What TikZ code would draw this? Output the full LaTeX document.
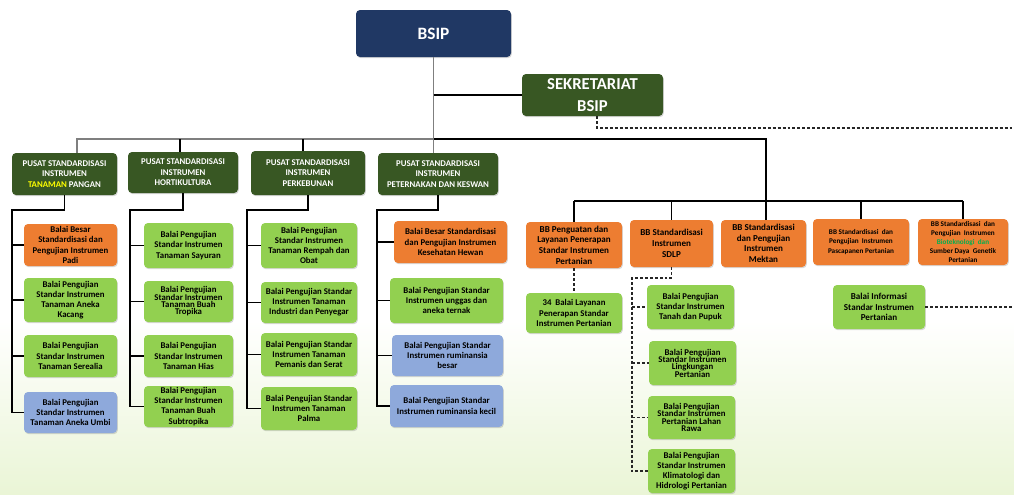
\documentclass[tikz,border=0pt]{standalone}
\usepackage{fontspec}
\setmainfont{Carlito}
\usetikzlibrary{shadows}
\definecolor{navy}{HTML}{203864}
\definecolor{dkgreen}{HTML}{385723}
\definecolor{orng}{HTML}{ED7D31}
\definecolor{lgreen}{HTML}{92D050}
\definecolor{lblue}{HTML}{8EA9DB}
\definecolor{txtyellow}{HTML}{FFFF00}
\definecolor{txtgreen}{HTML}{00B050}
\definecolor{bggreen}{RGB}{234,245,214}
\definecolor{linegray}{HTML}{7F7F7F}
\newcommand{\ubox}[7]{\node[#1, minimum width={(#5-#3)*0.75pt}, minimum height={(#6-#4)*0.75pt}] (#2) at ({(#3+#5)/2},{(#4+#6)/2}) {#7};}
\newcommand{\tightlines}{\lineskiplimit=-10pt\relax}
\begin{document}
\begin{tikzpicture}[x=0.75pt,y=-0.75pt,
  base/.style={rounded corners=3pt, inner sep=1pt, align=center,
    drop shadow={shadow xshift=0.6pt, shadow yshift=-0.9pt, opacity=0.3}},
  topbox/.style={base, fill=navy, text=white, font=\bfseries\fontsize{13}{16}\selectfont},
  sekbox/.style={base, fill=dkgreen, text=white, font=\bfseries\fontsize{12.5}{16}\selectfont},
  pusat/.style={base, fill=dkgreen, text=white, font=\bfseries\fontsize{6.6}{7.9}\selectfont},
  child/.style={base, text=black, font=\bfseries\fontsize{6.6}{7.6}\selectfont},
  tight/.style={font=\bfseries\fontsize{6.6}{5.5}\selectfont\tightlines},
  bbsmall/.style={font=\bfseries\fontsize{5.4}{6.8}\selectfont},
  bbmid/.style={font=\bfseries\fontsize{6.8}{8}\selectfont},
  og/.style={child, fill=orng},
  gr/.style={child, fill=lgreen},
  bl/.style={child, fill=lblue},
  bline/.style={draw=black, line width=0.9pt},
  gline/.style={draw=linegray, line width=0.9pt},
  dline/.style={draw=black!85, line width=0.8pt, dash pattern=on 2.2pt off 1.5pt}
]
\useasboundingbox (0,0) rectangle (1014,494);
\fill[white] (0,0) rectangle (1014,494);
\shade[top color=white, bottom color=bggreen] (0,320) rectangle (1014,494);

% top
\ubox{topbox}{bsip}{356}{10}{511}{57}{BSIP}
\ubox{sekbox}{sek}{522}{74}{663}{116}{SEKRETARIAT\\BSIP}

% pusat
\ubox{pusat}{p1}{12}{153}{117}{195}{PUSAT STANDARDISASI\\INSTRUMEN\\\textcolor{txtyellow}{TANAMAN} PANGAN}
\ubox{pusat}{p2}{128}{152}{238}{193}{PUSAT STANDARDISASI\\INSTRUMEN\\HORTIKULTURA}
\ubox{pusat}{p3}{251}{151}{365}{195}{PUSAT STANDARDISASI\\INSTRUMEN\\PERKEBUNAN}
\ubox{pusat}{p4}{378}{153}{498}{195}{PUSAT STANDARDISASI\\INSTRUMEN\\PETERNAKAN DAN KESWAN}

% tanaman pangan
\ubox{og}{c1}{24}{224}{117}{266}{Balai Besar\\Standardisasi dan\\Pengujian Instrumen\\Padi}
\ubox{gr}{c2}{24}{278}{117}{322}{Balai Pengujian\\Standar Instrumen\\Tanaman Aneka\\Kacang}
\ubox{gr}{c3}{24}{335}{117}{377}{Balai Pengujian\\Standar Instrumen\\Tanaman Serealia}
\ubox{bl}{c4}{24}{392}{117}{433}{Balai Pengujian\\Standar Instrumen\\Tanaman Aneka Umbi}

% hortikultura
\ubox{gr}{h1}{144}{223}{233}{268}{Balai Pengujian\\Standar Instrumen\\Tanaman Sayuran}
\ubox{gr,tight}{h2}{144}{281}{233}{322}{Balai Pengujian\\Standar Instrumen\\Tanaman Buah\\Tropika}
\ubox{gr}{h3}{144}{335}{233}{377}{Balai Pengujian\\Standar Instrumen\\Tanaman Hias}
\ubox{gr}{h4}{144}{386}{233}{427}{Balai Pengujian\\Standar Instrumen\\Tanaman Buah\\Subtropika}

% perkebunan
\ubox{gr}{k1}{261}{223}{357}{268}{Balai Pengujian\\Standar Instrumen\\Tanaman Rempah dan\\Obat}
\ubox{gr}{k2}{261}{282}{357}{323}{Balai Pengujian Standar\\Instrumen Tanaman\\Industri dan Penyegar}
\ubox{gr}{k3}{261}{333}{357}{376}{Balai Pengujian Standar\\Instrumen Tanaman\\Pemanis dan Serat}
\ubox{gr}{k4}{261}{387}{357}{430}{Balai Pengujian Standar\\Instrumen Tanaman\\Palma}

% peternakan
\ubox{og}{e1}{394}{221}{507}{263}{Balai Besar Standardisasi\\dan Pengujian Instrumen\\Kesehatan Hewan}
\ubox{gr}{e2}{390}{278}{503}{323}{Balai Pengujian Standar\\Instrumen unggas dan\\aneka ternak}
\ubox{bl}{e3}{392}{335}{503}{376}{Balai Pengujian Standar\\Instrumen ruminansia\\besar}
\ubox{bl}{e4}{390}{385}{503}{427}{Balai Pengujian Standar\\Instrumen ruminansia kecil}

% BB
\ubox{og,bbmid}{b1}{526}{222}{622}{268}{BB Penguatan dan\\Layanan Penerapan\\Standar Instrumen\\Pertanian}
\ubox{og,bbmid}{b2}{630}{220}{713}{267}{BB Standardisasi\\Instrumen\\SDLP}
\ubox{og,bbmid}{b3}{721}{220}{806}{267}{BB Standardisasi\\dan Pengujian\\Instrumen\\Mektan}
\ubox{og,bbsmall}{b4}{813}{219}{909}{265}{BB Standardisasi~ dan\\Pengujian~ Instrumen\\Pascapanen Pertanian}
\ubox{og,bbsmall}{b5}{918}{219}{1008}{265}{BB Standardisasi~ dan\\Pengujian~ Instrumen\\\textcolor{txtgreen}{Bioteknologi~ dan}\\Sumber Daya~ Genetik\\Pertanian}

\ubox{gr}{l34}{526}{293}{622}{333}{34~ Balai Layanan\\Penerapan Standar\\Instrumen Pertanian}
\ubox{gr}{s1}{647}{285}{734}{329}{Balai Pengujian\\Standar Instrumen\\Tanah dan Pupuk}
\ubox{gr,tight}{s2}{649}{341}{736}{385}{Balai Pengujian\\Standar Instrumen\\Lingkungan\\Pertanian}
\ubox{gr,tight}{s3}{648}{396}{735}{439}{Balai Pengujian\\Standar Instrumen\\Pertanian Lahan\\Rawa}
\ubox{gr}{s4}{648}{449}{735}{493}{Balai Pengujian\\Standar Instrumen\\Klimatologi dan\\Hidrologi Pertanian}
\ubox{gr,bbmid}{bi}{833}{285}{925}{329}{Balai Informasi\\Standar Instrumen\\Pertanian}

% connectors - top
\coordinate (barL) at (77,139);
\coordinate (barR) at (766,139);
\coordinate (t2) at (180,139);
\coordinate (t3) at (303,139);
\coordinate (bbar) at (766,201);
\draw[gline] (bsip.south) -- (bsip.south |- p4.north);
\draw[bline] (bsip.south |- sek.west) -- (sek.west);
\draw[gline] (barL |- p1.north) -- (barL) -- (bsip.south |- barL);
\draw[bline] (t2) -- (t2 |- p2.north);
\draw[bline] (t3) -- (t3 |- p3.north);
\draw[bline] (bsip.south |- barL) -- (barR) -- (barR |- b3.north);
\draw[bline] (b1.north |- bbar) -- (b5.north |- bbar);
\foreach \n in {b1,b2,b4,b5} \draw[bline] (\n.north |- bbar) -- (\n.north);

% pusat children
\coordinate (v1) at (12,210);
\draw[bline] (p1.south) |- (v1) -- (v1 |- c4.west) -- (c4.west);
\foreach \n in {c1,c2,c3} \draw[bline] (v1 |- \n.west) -- (\n.west);
\coordinate (v2) at (130,210);
\draw[bline] (p2.south) |- (v2) -- (v2 |- h4.west) -- (h4.west);
\foreach \n in {h1,h2,h3} \draw[bline] (v2 |- \n.west) -- (\n.west);
\coordinate (v3) at (247,210);
\draw[bline] (p3.south) |- (v3) -- (v3 |- k4.west) -- (k4.west);
\foreach \n in {k1,k2,k3} \draw[bline] (v3 |- \n.west) -- (\n.west);
\coordinate (v4) at (377,210);
\draw[bline] (p4.south) |- (v4) -- (v4 |- e4.west) -- (e4.west);
\foreach \n in {e1,e2,e3} \draw[bline] (v4 |- \n.west) -- (\n.west);

% dashed
\draw[dline] (b1.south) -- (l34.north);
\coordinate (v5) at (632,278);
\draw[dline] (b2.south) |- (v5) -- (v5 |- s4.west) -- (s4.west);
\foreach \n in {s1,s2,s3} \draw[dline] (v5 |- \n.west) -- (\n.west);
\coordinate (sd) at (597,128);
\coordinate (edge1) at (1014,128);
\draw[dline] (sd |- sek.south) -- (sd) -- (edge1);
\coordinate (edge2) at (1014,307);
\draw[dline] (bi.east) -- (bi.east -| edge2);
\end{tikzpicture}
\end{document}
